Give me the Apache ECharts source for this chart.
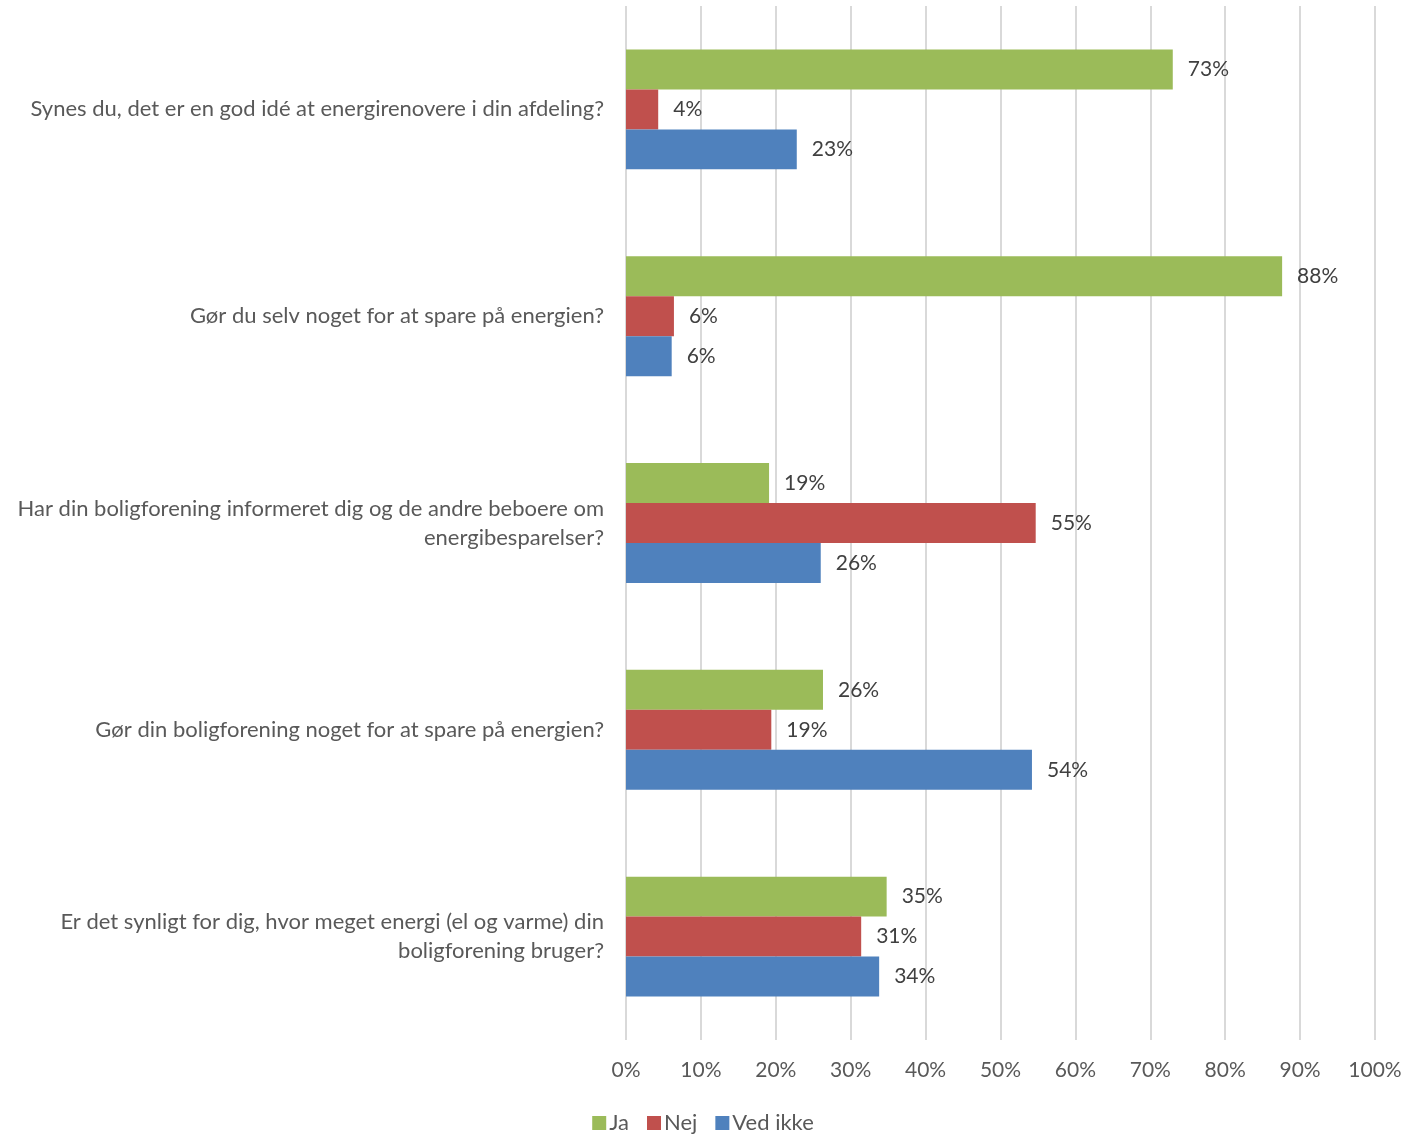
<!DOCTYPE html>
<html>
<head>
<meta charset="utf-8">
<script src="https://cdn.jsdelivr.net/npm/echarts@6/dist/echarts.min.js"></script>
<style>html,body{margin:0;padding:0;background:#fff}#c{width:1406px;height:1135px}</style>
</head>
<body>
<div id="c"></div>
<script>
const categories = [
  "Synes du, det er en god idé at energirenovere i din afdeling?",
  "Gør du selv noget for at spare på energien?",
  "Har din boligforening informeret dig og de andre beboere om\nenergibesparelser?",
  "Gør din boligforening noget for at spare på energien?",
  "Er det synligt for dig, hvor meget energi (el og varme) din\nboligforening bruger?"
];
const seriesNames = ["Ja", "Nej", "Ved ikke"];
const ja = [73.0, 87.6, 19.1, 26.3, 34.8];
const nej = [4.3, 6.4, 54.7, 19.4, 31.4];
const vedIkke = [22.8, 6.1, 26.0, 54.2, 33.8];
const xTicks = [0, 10, 20, 30, 40, 50, 60, 70, 80, 90, 100];
const colors = ["#9BBB59", "#C0504D", "#4F81BD"];

const font = "Lato, 'Open Sans', sans-serif";
const chart = echarts.init(document.getElementById('c'), null, {renderer: 'canvas'});
const mk = (name, data, color) => ({
  name, type: 'bar', data, barGap: '0%', barCategoryGap: '42%',
  itemStyle: {color},
  label: {show: true, position: 'right', distance: 15, color: '#404040', fontSize: 21, fontFamily: font,
    formatter: p => Math.round(p.value) + '%'}
});
chart.setOption({
  animation: false,
  textStyle: {fontFamily: font},
  grid: {left: 626, right: 31, top: 6, bottom: 95, containLabel: false},
  legend: {
    top: 1112, left: 'center', icon: 'rect', itemWidth: 14, itemHeight: 14, itemGap: 18, padding: 0,
    textStyle: {fontSize: 22, color: '#595959', fontFamily: font, padding: [0, 0, 0, -2]},
    data: seriesNames
  },
  xAxis: {
    type: 'value', min: xTicks[0], max: xTicks[xTicks.length - 1], interval: 10,
    axisLine: {show: false}, axisTick: {show: false},
    splitLine: {show: true, lineStyle: {color: '#D9D9D9', width: 2}},
    axisLabel: {formatter: '{value}%', fontSize: 21, color: '#595959', margin: 20, fontFamily: font}
  },
  yAxis: {
    type: 'category', data: categories, inverse: true,
    axisLine: {show: false}, axisTick: {show: false},
    axisLabel: {fontSize: 22, color: '#595959', margin: 22, lineHeight: 29, align: 'right', fontFamily: font}
  },
  series: [mk(seriesNames[0], ja, colors[0]), mk(seriesNames[1], nej, colors[1]), mk(seriesNames[2], vedIkke, colors[2])]
});
</script>
</body>
</html>
